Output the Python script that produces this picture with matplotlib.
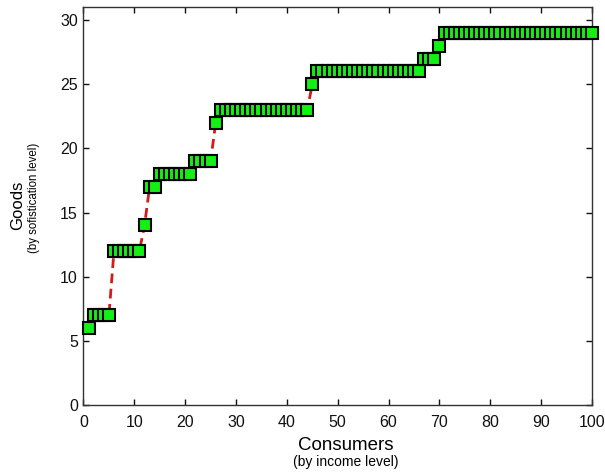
import matplotlib
matplotlib.use("Agg")
import matplotlib.pyplot as plt
from matplotlib import font_manager

plt.rcParams['font.family'] = ['Liberation Sans', 'DejaVu Sans']

# consumer index (by income) and the most sophisticated good each one buys
consumers = list(range(1, 101))
goods = ([6] + [7] * 4 + [12] * 6 + [14] + [17] * 2 + [18] * 7 + [19] * 4
         + [22] + [23] * 18 + [25] + [26] * 21 + [27] * 3 + [28] + [29] * 30)

xticks = list(range(0, 101, 10))
yticks = list(range(0, 31, 5))

names = {f.name for f in font_manager.fontManager.ttflist}
narrow = 'Liberation Sans Narrow' in names

fig = plt.figure(figsize=(6.05, 4.73), dpi=100)
ax = fig.add_axes([0.138, 0.1438, 0.8405, 0.8408])

ax.plot(consumers, goods, color='#d41a1a', lw=2, dashes=(3.5, 2),
        marker='s', ms=8, mfc='#14f014', mec='black', mew=1.5, zorder=3,
        clip_on=False)

ax.set_xlim(0, 100)
ax.set_ylim(0, 31)
ax.set_xticks(xticks)
ax.set_yticks(yticks)
ax.tick_params(direction='in', length=4, width=1, top=True, right=True,
               labelsize=11.5, colors='#111111')
ax.tick_params(axis='x', pad=7)
ax.tick_params(axis='y', pad=4)
for s in ax.spines.values():
    s.set_linewidth(1)
    s.set_color('#333333')

# axis titles with the smaller subtitle underneath
fig.text(346 / 605, 1 - 445 / 473, 'Consumers', ha='center', va='center',
         fontsize=13.5)
fig.text(346 / 605, 1 - 462 / 473, '(by income level)', ha='center',
         va='center', fontsize=10)
if narrow:
    fig.text(17.5 / 605, 1 - 205 / 473, 'Goods', rotation=90, ha='center',
             va='center', fontsize=14, family=['Liberation Sans Narrow'])
    fig.text(34 / 605, 1 - 198 / 473, '(by sofistication level)',
             rotation=90, ha='center', va='center', fontsize=9.5,
             family=['Liberation Sans Narrow'])
else:
    fig.text(17.5 / 605, 1 - 205 / 473, 'Goods', rotation=90, ha='center',
             va='center', fontsize=12)
    fig.text(34 / 605, 1 - 198 / 473, '(by sofistication level)',
             rotation=90, ha='center', va='center', fontsize=8.3)

fig.savefig('out.png', dpi=100)
